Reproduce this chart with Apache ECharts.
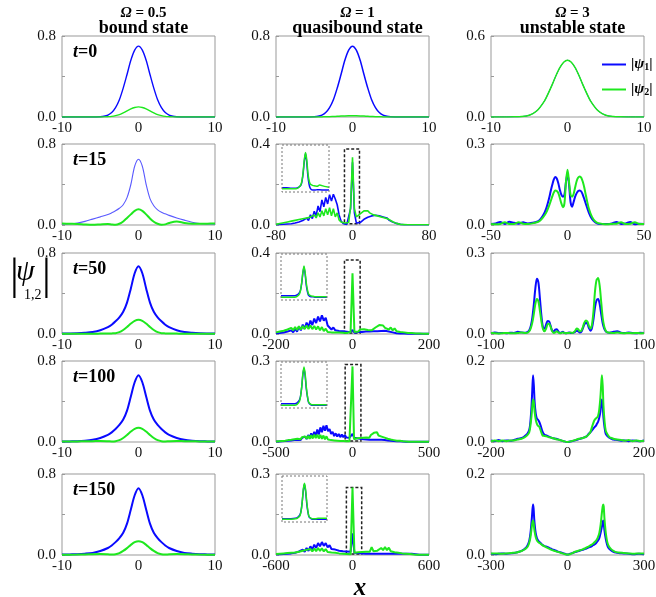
<!DOCTYPE html>
<html><head><meta charset="utf-8">
<script src="https://cdn.jsdelivr.net/npm/echarts@6/dist/echarts.min.js"></script>
<style>html,body{margin:0;padding:0;background:#fff}#c{width:656px;height:597px}</style>
</head><body><div id="c"></div>
<script>
// ---------------- DATA ----------------
const colTitles = ['0.5', '1', '3'];
const colStates = ['bound state', 'quasibound state', 'unstable state'];
const rowTimes = ['0', '15', '50', '100', '150'];
// x half-ranges and y maxima per panel [row][col]
const xRanges = [[10, 10, 10], [10, 80, 50], [10, 200, 100], [10, 500, 200], [10, 600, 300]];
const yMaxes = [[0.8, 0.8, 0.6], [0.8, 0.4, 0.3], [0.8, 0.4, 0.3], [0.8, 0.3, 0.2], [0.8, 0.3, 0.2]];

// column 1 (Omega = 0.5)
const c1xA = [-10,-6,-5,-4.5,-4,-3.5,-3,-2.5,-2,-1.5,-1,-0.5,0,0.5,1,1.5,2,2.5,3,3.5,4,4.5,5,6,10];
const r1c1_b = [0,0,0.0025,0.007,0.019,0.044,0.092,0.17,0.285,0.42,0.56,0.66,0.7,0.66,0.56,0.42,0.285,0.17,0.092,0.044,0.019,0.007,0.0025,0,0];
const r1c1_g = [0,0,0,0.001,0.003,0.006,0.013,0.024,0.041,0.06,0.08,0.094,0.1,0.094,0.08,0.06,0.041,0.024,0.013,0.006,0.003,0.001,0,0,0];
const c1xB = [-10,-9,-8,-7,-6,-5,-4,-3.5,-3,-2.5,-2,-1.5,-1,-0.5,0,0.5,1,1.5,2,2.5,3,3.5,4,5,6,7,8,9,10];
const r2c1_b = [0.008,0.012,0.02,0.036,0.058,0.08,0.103,0.12,0.14,0.165,0.2,0.27,0.4,0.58,0.65,0.58,0.4,0.26,0.19,0.15,0.125,0.11,0.095,0.07,0.048,0.028,0.015,0.01,0.008];
const r2c1_g = [0.014,0.012,0.01,0.005,0.002,0.006,0.01,0.005,0.002,0.012,0.035,0.07,0.105,0.14,0.155,0.14,0.105,0.065,0.032,0.012,0.002,0.006,0.02,0.034,0.02,0.013,0.012,0.013,0.015];
const r3c1_b = [0.004,0.005,0.007,0.012,0.02,0.037,0.068,0.092,0.125,0.165,0.22,0.31,0.45,0.6,0.67,0.6,0.45,0.31,0.22,0.165,0.125,0.092,0.068,0.037,0.02,0.012,0.007,0.005,0.004];
const r3c1_g = [0.003,0.003,0.003,0.003,0.003,0.004,0.005,0.006,0.008,0.018,0.04,0.07,0.103,0.13,0.14,0.13,0.103,0.07,0.04,0.018,0.008,0.006,0.005,0.004,0.003,0.003,0.003,0.003,0.003];
const r4c1_b = [0.004,0.006,0.008,0.013,0.022,0.04,0.07,0.095,0.128,0.168,0.222,0.31,0.45,0.59,0.66,0.59,0.45,0.31,0.222,0.168,0.128,0.095,0.07,0.04,0.022,0.013,0.008,0.006,0.004];
const r4c1_g = [0.004,0.005,0.006,0.007,0.008,0.01,0.008,0.006,0.008,0.018,0.04,0.07,0.103,0.13,0.14,0.13,0.103,0.07,0.04,0.018,0.008,0.006,0.008,0.01,0.008,0.007,0.006,0.005,0.004];
const r5c1_b = [0.004,0.006,0.008,0.013,0.021,0.039,0.069,0.094,0.127,0.167,0.22,0.31,0.45,0.59,0.66,0.59,0.45,0.31,0.22,0.167,0.127,0.094,0.069,0.039,0.021,0.013,0.008,0.006,0.004];
const r5c1_g = [0.003,0.003,0.004,0.006,0.008,0.009,0.007,0.005,0.007,0.018,0.04,0.068,0.1,0.127,0.137,0.127,0.1,0.068,0.04,0.018,0.007,0.005,0.007,0.009,0.008,0.006,0.004,0.003,0.003];

// column 2 (Omega = 1)
const r1c2_b = [0,0,0.0025,0.007,0.019,0.044,0.092,0.17,0.285,0.42,0.56,0.66,0.7,0.66,0.56,0.42,0.285,0.17,0.092,0.044,0.019,0.007,0.0025,0,0];
const r1c2_g = [0,0,0,0,0.001,0.002,0.003,0.005,0.007,0.009,0.011,0.012,0.012,0.012,0.011,0.009,0.007,0.005,0.003,0.002,0.001,0,0,0,0];
const r2c2_x = [-80,-78,-76,-74,-72,-70,-68,-66,-64,-62,-60,-58,-56,-54,-52,-50,-48,-46,-44,-42,-40,-38,-36,-34,-32,-30,-28,-26,-24,-22,-20,-18,-16,-14,-12,-10,-8,-6,-4,-2,0,2,4,6,8,10,12,14,16,18,20,22,24,26,28,30,32,34,36,38,40,42,44,46,48,50,52,54,56,58,60,62,64,66,68,70,72,74,76,78,80];
const r2c2_b = [0.002,0.002,0.003,0.003,0.004,0.004,0.005,0.006,0.006,0.008,
  0.01,0.012,0.015,0.012,0.022,0.016,0.034,0.022,0.05,0.032,
  0.068,0.046,0.094,0.066,0.124,0.09,0.136,0.104,0.15,0.118,
  0.152,0.128,0.1,0.05,0.02,0.008,0.004,0.003,0.005,0.08,
  0.31,
  0.06,0.01,0.008,0.012,0.02,0.028,0.022,0.038,0.03,0.045,
  0.04,0.048,0.042,0.045,0.038,0.04,0.032,0.035,0.025,0.022,
  0.015,0.012,0.008,0.005,0.003,0.002,0.001,0.001,0.001,0.001,
  0.001,0.001,0.001,0.001,0.001,0.001,0.001,0.001,0.001,0.001];
const r2c2_g = [0.003,0.005,0.007,0.009,0.011,0.013,0.015,0.017,0.019,0.021,
  0.023,0.025,0.027,0.029,0.031,0.033,0.035,0.037,0.039,0.041,
  0.05,0.035,0.06,0.04,0.07,0.045,0.08,0.05,0.085,0.045,
  0.08,0.04,0.06,0.025,0.015,0.012,0.01,0.01,0.012,0.09,
  0.335,
  0.08,0.04,0.045,0.055,0.06,0.07,0.075,0.07,0.06,0.055,
  0.05,0.052,0.045,0.048,0.04,0.042,0.035,0.035,0.028,0.022,
  0.016,0.012,0.008,0.005,0.003,0.002,0.002,0.001,0.001,0.001,
  0.001,0.001,0.001,0.001,0.001,0.001,0.001,0.001,0.001,0.001];
const r3c2_x = [-200,-195,-190,-185,-180,-175,-170,-165,-160,-155,-150,-145,-140,-135,-130,-125,-120,-115,-110,-105,-100,-95,-90,-85,-80,-75,-70,-65,-60,-55,-50,-45,-40,-35,-30,-25,-20,-15,-10,-5,0,5,10,15,20,25,30,35,40,45,50,55,60,65,70,75,80,85,90,95,100,105,110,115,120,125,130,135,140,145,150,155,160,165,170,175,180,185,190,195,200];
const r3c2_b = [0.004,0.005,0.005,0.006,0.007,0.008,0.012,0.006,0.018,0.008,
  0.026,0.012,0.036,0.018,0.046,0.026,0.056,0.034,0.066,0.044,
  0.076,0.054,0.086,0.062,0.092,0.066,0.08,0.042,0.04,0.022,
  0.032,0.018,0.027,0.015,0.022,0.013,0.019,0.011,0.015,0.009,
  0.02,
  0.006,0.008,0.01,0.012,0.01,0.013,0.012,0.014,0.012,0.015,
  0.013,0.016,0.014,0.018,0.015,0.02,0.016,0.018,0.012,0.012,
  0.008,0.006,0.004,0.003,0.002,0.002,0.002,0.002,0.001,0.001,
  0.001,0.001,0.001,0.001,0.001,0.001,0.001,0.001,0.001,0.001];
const r3c2_g = [0.008,0.01,0.012,0.014,0.016,0.018,0.022,0.016,0.03,0.018,
  0.034,0.02,0.038,0.022,0.04,0.024,0.042,0.024,0.042,0.024,
  0.04,0.022,0.038,0.018,0.034,0.014,0.026,0.01,0.018,0.008,
  0.01,0.008,0.008,0.007,0.006,0.006,0.005,0.005,0.005,0.01,
  0.3,
  0.01,0.015,0.012,0.022,0.014,0.024,0.016,0.02,0.028,0.018,
  0.025,0.032,0.038,0.044,0.046,0.042,0.03,0.038,0.022,0.032,
  0.018,0.028,0.014,0.022,0.01,0.017,0.008,0.012,0.005,0.008,
  0.005,0.004,0.003,0.002,0.002,0.001,0.001,0.001,0.001,0.001];
const r4c2_x = [-500,-490,-480,-470,-460,-450,-440,-430,-420,-410,-400,-390,-380,-370,-360,-350,-340,-330,-320,-310,-300,-290,-280,-270,-260,-250,-240,-230,-220,-210,-200,-190,-180,-170,-160,-150,-140,-130,-120,-110,-100,-90,-80,-70,-60,-50,-40,-30,-20,-10,0,10,20,30,40,50,60,70,80,90,100,110,120,130,140,150,160,170,180,190,200,210,220,230,240,250,260,270,280,290,300,310,320,330,340,350,360,370,380,390,400,410,420,430,440,450,460,470,480,490,500];
const r4c2_b = [0.002,0.002,0.002,0.003,0.003,0.003,0.004,0.004,0.005,0.005,
  0.006,0.006,0.007,0.008,0.008,0.011,0.007,0.015,0.009,0.02,
  0.011,0.026,0.014,0.032,0.018,0.038,0.022,0.046,0.028,0.054,
  0.036,0.06,0.042,0.062,0.04,0.048,0.03,0.038,0.022,0.032,
  0.02,0.03,0.018,0.028,0.018,0.026,0.017,0.024,0.016,0.022,
  0.03,
  0.016,0.018,0.014,0.016,0.012,0.014,0.01,0.012,0.009,0.011,
  0.008,0.01,0.008,0.01,0.008,0.01,0.008,0.01,0.008,0.009,
  0.007,0.008,0.006,0.007,0.005,0.006,0.004,0.005,0.003,0.004,
  0.003,0.003,0.002,0.002,0.001,0.001,0.001,0.001,0.001,0.001,
  0.001,0.001,0.001,0.001,0.001,0.001,0.001,0.001,0.001,0.001];
const r4c2_g = [0.002,0.003,0.003,0.004,0.004,0.005,0.005,0.006,0.007,0.007,
  0.008,0.009,0.01,0.011,0.012,0.014,0.01,0.018,0.011,0.02,
  0.012,0.023,0.012,0.025,0.013,0.027,0.014,0.027,0.013,0.026,
  0.012,0.024,0.01,0.021,0.009,0.016,0.007,0.012,0.006,0.008,
  0.005,0.005,0.004,0.004,0.004,0.003,0.003,0.003,0.003,0.004,
  0.28,
  0.01,0.016,0.014,0.018,0.015,0.019,0.016,0.02,0.017,0.022,
  0.016,0.026,0.024,0.034,0.03,0.036,0.024,0.03,0.02,0.026,
  0.016,0.02,0.012,0.016,0.009,0.012,0.007,0.008,0.005,0.006,
  0.005,0.004,0.003,0.003,0.002,0.001,0.001,0.001,0.001,0.001,
  0.001,0.001,0.001,0.001,0.001,0.001,0.001,0.001,0.001,0.001];
const r5c2_x = [-600,-585,-570,-555,-540,-525,-510,-495,-480,-465,-450,-435,-420,-405,-390,-375,-360,-345,-330,-315,-300,-285,-270,-255,-240,-225,-210,-195,-180,-165,-150,-135,-120,-105,-90,-75,-60,-45,-30,-15,0,15,30,45,60,75,90,105,120,135,150,165,180,195,210,225,240,255,270,285,300,315,330,345,360,375,390,405,420,435,450,465,480,495,510,525,540,555,570,585,600];
const r5c2_b = [0.003,0.003,0.003,0.004,0.004,0.004,0.005,0.005,0.006,0.007,
  0.008,0.01,0.013,0.011,0.02,0.012,0.026,0.015,0.032,0.02,
  0.038,0.026,0.044,0.032,0.048,0.034,0.044,0.028,0.036,0.022,
  0.028,0.02,0.026,0.016,0.022,0.014,0.02,0.013,0.018,0.012,
  0.08,
  0.008,0.007,0.007,0.006,0.006,0.006,0.005,0.005,0.005,0.005,
  0.005,0.006,0.005,0.006,0.005,0.006,0.005,0.006,0.005,0.006,
  0.005,0.006,0.005,0.006,0.005,0.006,0.005,0.006,0.005,0.006,
  0.005,0.004,0.003,0.002,0.001,0.001,0.001,0.001,0.001,0.001];
const r5c2_g = [0.004,0.004,0.005,0.005,0.006,0.006,0.007,0.007,0.008,0.008,
  0.009,0.01,0.012,0.01,0.016,0.011,0.019,0.012,0.022,0.013,
  0.024,0.014,0.026,0.015,0.025,0.013,0.022,0.011,0.018,0.009,
  0.012,0.008,0.008,0.006,0.006,0.005,0.005,0.004,0.004,0.003,
  0.25,
  0.008,0.009,0.01,0.01,0.011,0.01,0.012,0.011,0.012,0.029,
  0.014,0.012,0.016,0.02,0.026,0.018,0.03,0.018,0.027,0.014,
  0.02,0.01,0.014,0.008,0.011,0.006,0.009,0.005,0.006,0.004,
  0.003,0.002,0.002,0.001,0.001,0.001,0.001,0.001,0.001,0.001];
// dotted boxes around the central spike: [x0, y0, x1, y1]
const spikeBoxes = [null, [-8.4, 0.006, 7.3, 0.375], [-21, 0.005, 20, 0.365], [-48, 0.004, 55, 0.287], [-48, 0.004, 72, 0.25]];
// insets (normalised zoom of the central spike)
const insetX = [-1,-0.8,-0.6,-0.4,-0.3,-0.2,-0.15,-0.1,-0.05,0,0.05,0.1,0.15,0.2,0.3,0.4,0.5,0.6,0.8,1];
const in2_b = [0.09,0.09,0.08,0.08,0.1,0.14,0.22,0.4,0.66,0.82,0.64,0.35,0.17,0.08,0.04,0.04,0.05,0.05,0.04,0.04];
const in2_g = [0.07,0.07,0.07,0.07,0.09,0.15,0.24,0.43,0.69,0.84,0.7,0.42,0.25,0.17,0.14,0.13,0.12,0.15,0.12,0.1];
const in3_b = [0.09,0.09,0.09,0.09,0.11,0.16,0.22,0.36,0.58,0.72,0.56,0.32,0.18,0.1,0.07,0.07,0.06,0.06,0.06,0.06];
const in3_g = [0.06,0.06,0.06,0.06,0.08,0.13,0.21,0.38,0.6,0.74,0.6,0.37,0.22,0.13,0.09,0.08,0.07,0.07,0.07,0.07];
const in4_b = [0.09,0.09,0.09,0.09,0.11,0.17,0.26,0.45,0.72,0.86,0.7,0.42,0.24,0.12,0.07,0.06,0.06,0.06,0.06,0.06];
const in4_g = [0.06,0.06,0.06,0.06,0.08,0.14,0.25,0.46,0.74,0.89,0.74,0.46,0.26,0.13,0.08,0.07,0.07,0.07,0.07,0.07];
const in5_b = [0.07,0.07,0.07,0.08,0.1,0.16,0.25,0.44,0.7,0.82,0.66,0.4,0.22,0.11,0.07,0.06,0.06,0.06,0.06,0.06];
const in5_g = [0.06,0.06,0.06,0.07,0.09,0.14,0.24,0.45,0.72,0.84,0.7,0.44,0.24,0.12,0.08,0.07,0.07,0.08,0.08,0.08];

// column 3 (Omega = 3)
const r1c3_x = [-10,-8,-7,-6,-5,-4,-3,-2.5,-2,-1.5,-1,-0.5,0,0.5,1,1.5,2,2.5,3,4,5,6,7,8,10];
const r1c3_b = [0,0.0005,0.001,0.003,0.013,0.046,0.12,0.177,0.24,0.307,0.365,0.406,0.42,0.406,0.365,0.307,0.24,0.177,0.12,0.046,0.013,0.003,0.001,0.0005,0];
const r1c3_g = [0,0.0005,0.001,0.003,0.013,0.046,0.12,0.177,0.24,0.307,0.365,0.406,0.42,0.406,0.365,0.307,0.24,0.177,0.12,0.046,0.013,0.003,0.001,0.0005,0];
const r2c3_x = [-50,-47,-44,-41,-38,-35,-32,-29,-26,-23,-20,-18,-16,-14,-12,-11,-10,-9,-8,-7,-6,-5,-4,-3,-2,-1,0,1,2,3,4,5,6,7,8,9,10,11,12,14,16,18,20,23,26,29,32,35,38,41,44,47,50];
const r2c3_b = [0.004,0.006,0.011,0.004,0.012,0.008,0.005,0.01,0.006,0.008,
  0.012,0.02,0.035,0.06,0.1,
  0.125,0.148,0.168,0.178,0.172,0.155,0.13,0.112,0.105,0.112,0.16,0.19,0.15,0.085,0.068,0.085,0.105,0.118,0.126,0.128,0.124,0.112,0.096,0.078,
  0.045,0.022,0.01,0.005,
  0.004,0.004,0.006,0.011,0.004,0.006,0.011,0.003,0.005,0.004];
const r2c3_g = [0.004,0.003,0.004,0.01,0.004,0.004,0.01,0.005,0.004,0.006,
  0.01,0.016,0.028,0.045,0.072,
  0.088,0.105,0.12,0.128,0.126,0.118,0.1,0.08,0.066,0.08,0.16,0.205,0.16,0.112,0.105,0.115,0.14,0.163,0.176,0.18,0.175,0.16,0.138,0.11,
  0.06,0.03,0.014,0.007,
  0.004,0.003,0.004,0.005,0.01,0.004,0.005,0.01,0.004,0.004];
const r3c3_x = [-100,-95,-90,-85,-80,-75,-70,-65,-60,-55,-52,
  -50,-48,-46,-44,-42,-40,-38,-36,-34,-32,-30,-28,-26,-24,-22,-20,-18,-16,-14,-12,-10,-8,-6,-4,-2,0,2,4,6,8,10,12,14,16,18,20,22,24,26,28,30,32,34,36,38,40,42,44,46,48,50,
  52,55,60,65,70,75,80,85,90,95,100];
const r3c3_b = [0.003,0.006,0.003,0.004,0.003,0.005,0.004,0.008,0.006,0.005,0.008,
  0.014,0.03,0.06,0.11,0.17,0.205,0.19,0.13,0.065,0.025,
  0.02,0.035,0.048,0.046,0.03,0.012,0.01,0.016,0.018,0.01,
  0.004,0.006,0.008,0.004,0.003,0.004,0.006,0.004,0.004,0.005,
  0.008,0.012,0.01,0.006,0.008,0.02,0.035,0.042,0.038,0.022,
  0.012,0.022,0.055,0.1,0.125,0.13,0.112,0.075,0.04,0.02,
  0.01,
  0.006,0.005,0.008,0.01,0.005,0.004,0.006,0.004,0.003,0.005,0.004];
const r3c3_g = [0.004,0.003,0.002,0.003,0.004,0.003,0.003,0.004,0.006,0.004,0.005,
  0.01,0.022,0.042,0.075,0.112,0.13,0.12,0.085,0.045,0.018,
  0.01,0.02,0.036,0.038,0.026,0.01,0.004,0.006,0.01,0.006,
  0.003,0.004,0.006,0.004,0.003,0.004,0.004,0.006,0.004,0.006,
  0.012,0.02,0.018,0.01,0.012,0.025,0.042,0.05,0.046,0.03,
  0.02,0.035,0.085,0.16,0.2,0.207,0.18,0.12,0.06,0.028,
  0.012,
  0.006,0.005,0.004,0.006,0.004,0.003,0.004,0.003,0.004,0.003,0.004];
const r4c3_x = [-200,-190,-180,-170,-160,-150,-140,-130,-120,-115,-110,-105,-100,-97,-94,-92,-90,-88,-86,-83,-80,-77,-74,-70,-65,-60,-55,-50,-40,-30,-20,-10,0,
  10,20,30,40,50,55,60,65,70,74,77,80,83,86,88,90,92,94,97,100,105,110,115,120,130,140,150,160,170,180,190,200];
const r4c3_b = [0.004,0.002,0.005,0.002,0.004,0.003,0.005,0.008,0.01,0.012,0.016,0.02,0.03,0.05,0.09,0.13,0.165,0.14,0.1,0.07,0.058,0.055,0.05,0.04,0.025,0.018,0.016,0.014,0.01,0.008,0.005,0.002,0,
  0.002,0.004,0.007,0.01,0.014,0.02,0.024,0.03,0.036,0.04,0.045,0.05,0.06,0.075,0.095,0.105,0.09,0.06,0.035,0.02,0.014,0.01,0.008,0.006,0.005,0.003,0.004,0.002,0.004,0.003,0.002,0.004];
const r4c3_g = [0.002,0.004,0.002,0.004,0.002,0.004,0.004,0.006,0.008,0.01,0.013,0.017,0.024,0.04,0.065,0.09,0.105,0.098,0.075,0.055,0.045,0.04,0.038,0.028,0.016,0.015,0.014,0.012,0.01,0.007,0.005,0.002,0,
  0.002,0.005,0.008,0.01,0.014,0.018,0.025,0.04,0.053,0.058,0.06,0.065,0.08,0.11,0.14,0.165,0.14,0.09,0.05,0.028,0.018,0.012,0.01,0.008,0.006,0.005,0.003,0.005,0.002,0.004,0.002,0.003];
const r5c3_x = [-300,-280,-260,-240,-220,-200,-190,-180,-170,-160,-155,-150,-145,-140,-137,-135,-133,-130,-125,-120,-115,-110,-100,-90,-80,-70,-60,-50,-40,-30,-20,-10,0,
  10,20,30,40,50,60,70,80,90,100,110,115,120,125,130,135,138,140,142,145,150,155,160,170,180,190,200,220,240,260,280,300];
const r5c3_b = [0.003,0.002,0.004,0.003,0.004,0.006,0.008,0.01,0.014,0.02,0.026,0.035,0.055,0.09,0.115,0.125,0.115,0.085,0.055,0.042,0.036,0.032,0.026,0.022,0.02,0.017,0.014,0.012,0.009,0.007,0.005,0.003,0.001,
  0.003,0.005,0.007,0.009,0.011,0.013,0.015,0.018,0.02,0.024,0.028,0.032,0.036,0.042,0.055,0.07,0.08,0.085,0.08,0.06,0.04,0.026,0.018,0.012,0.008,0.006,0.005,0.004,0.003,0.002,0.003,0.002];
const r5c3_g = [0.004,0.004,0.003,0.004,0.005,0.006,0.008,0.01,0.013,0.018,0.022,0.03,0.045,0.07,0.082,0.085,0.08,0.062,0.045,0.036,0.032,0.03,0.025,0.021,0.018,0.015,0.012,0.01,0.008,0.006,0.004,0.002,0.001,
  0.002,0.005,0.008,0.01,0.012,0.014,0.017,0.02,0.024,0.028,0.034,0.038,0.045,0.055,0.075,0.105,0.12,0.125,0.12,0.09,0.055,0.035,0.024,0.015,0.01,0.007,0.006,0.005,0.004,0.003,0.004,0.004];

// ---------------- LAYOUT / STYLE ----------------
const FONT = '"Liberation Serif","Times New Roman",serif';
const BLUE = '#0a0aff', GREEN = '#1ee81e';
const colLeft = [62, 276, 491], rowTop = [36, 144, 253, 361, 474], PW = 153, PH = 81;
const insetBoxes = [null, [282, 145, 47, 47], [281, 254, 46, 46], [281, 362, 46, 46], [282, 476, 45, 46]];

const panelData = [
  [[c1xA, r1c1_b, r1c1_g], [c1xA, r1c2_b, r1c2_g], [r1c3_x, r1c3_b, r1c3_g]],
  [[c1xB, r2c1_b, r2c1_g], [r2c2_x, r2c2_b, r2c2_g], [r2c3_x, r2c3_b, r2c3_g]],
  [[c1xB, r3c1_b, r3c1_g], [r3c2_x, r3c2_b, r3c2_g], [r3c3_x, r3c3_b, r3c3_g]],
  [[c1xB, r4c1_b, r4c1_g], [r4c2_x, r4c2_b, r4c2_g], [r4c3_x, r4c3_b, r4c3_g]],
  [[c1xB, r5c1_b, r5c1_g], [r5c2_x, r5c2_b, r5c2_g], [r5c3_x, r5c3_b, r5c3_g]]
];
const insetData = [null, [in2_b, in2_g], [in3_b, in3_g], [in4_b, in4_g], [in5_b, in5_g]];

const zip = (xs, ys) => xs.map((x, i) => [x, ys[i]]);
const option = { animation: false, grid: [], xAxis: [], yAxis: [], series: [], title: [], graphic: [] };
const lbl = { color: '#111', fontFamily: FONT, fontSize: 15 };

let gi = 0;
for (let r = 0; r < 5; r++) {
  for (let c = 0; c < 3; c++) {
    const xr = xRanges[r][c], ym = yMaxes[r][c];
    const [xs, bs, gs] = panelData[r][c];
    option.grid.push({ left: colLeft[c], top: rowTop[r], width: PW, height: PH, show: true,
      borderColor: '#999', borderWidth: 1, backgroundColor: 'transparent', outerBoundsMode: 'none' });
    option.xAxis.push({ gridIndex: gi, type: 'value', min: -xr, max: xr, interval: xr,
      axisLine: { show: false, onZero: false }, axisTick: { show: false }, splitLine: { show: false },
      axisLabel: Object.assign({ margin: 4 }, lbl) });
    option.yAxis.push({ gridIndex: gi, type: 'value', min: 0, max: ym, interval: ym / 2,
      axisLine: { show: false, onZero: false }, splitLine: { show: false },
      axisTick: { show: true, inside: true, length: 3, lineStyle: { color: '#999' } },
      axisLabel: Object.assign({ margin: 6, formatter: v => (v === 0 || Math.abs(v - ym) < 1e-9) ? v.toFixed(1) : '' }, lbl) });
    const mid = c === 1 && r > 0;
    const smooth = mid ? false : 0.3;
    let gw = c === 0 ? (r === 0 ? 1.4 : 2) : (mid ? (r === 1 ? 1.6 : 2) : (r === 0 ? 1.5 : 2));
    let bw = (c === 0 && r === 1) ? 1.1 : ((c === 2 && r === 0) ? 1 : gw);
    const bcol = (c === 0 && r === 1) ? '#5a5aff' : BLUE;
    option.series.push({ type: 'line', name: 'psi1', xAxisIndex: gi, yAxisIndex: gi, data: zip(xs, bs),
      symbol: 'none', smooth, color: bcol, lineStyle: { color: bcol, width: bw }, silent: true, z: 2 });
    const gser = { type: 'line', name: 'psi2', xAxisIndex: gi, yAxisIndex: gi, data: zip(xs, gs),
      symbol: 'none', smooth, color: GREEN, lineStyle: { color: GREEN, width: gw }, silent: true, z: 3 };
    if (c === 1 && spikeBoxes[r]) {
      const b = spikeBoxes[r];
      gser.markArea = { silent: true, itemStyle: { color: 'rgba(0,0,0,0)', borderColor: '#222', borderWidth: 1.5, borderType: [3, 2] },
        data: [[{ coord: [b[0], b[1]] }, { coord: [b[2], b[3]] }]] };
    }
    option.series.push(gser);
    gi++;
  }
}
// insets
for (let r = 1; r < 5; r++) {
  const bx = insetBoxes[r];
  option.grid.push({ left: bx[0], top: bx[1], width: bx[2], height: bx[3], show: false, outerBoundsMode: 'none' });
  option.xAxis.push({ gridIndex: gi, type: 'value', min: -1, max: 1, show: false });
  option.yAxis.push({ gridIndex: gi, type: 'value', min: 0, max: 1, show: false });
  option.series.push({ type: 'line', name: 'psi1', xAxisIndex: gi, yAxisIndex: gi, data: zip(insetX, insetData[r][0]),
    symbol: 'none', smooth: 0.2, color: BLUE, lineStyle: { color: BLUE, width: 1.5 }, silent: true, z: 4 });
  option.series.push({ type: 'line', name: 'psi2', xAxisIndex: gi, yAxisIndex: gi, data: zip(insetX, insetData[r][1]),
    symbol: 'none', smooth: 0.2, color: GREEN, lineStyle: { color: GREEN, width: 1.5 }, silent: true, z: 5 });
  option.graphic.push({ type: 'rect', shape: { x: bx[0], y: bx[1], width: bx[2], height: bx[3] },
    style: { fill: 'none', stroke: '#777', lineWidth: 1, lineDash: [2, 2] }, silent: true, z: 10 });
  gi++;
}

// column titles
for (let c = 0; c < 3; c++) {
  const cx = colLeft[c] + PW / 2;
  option.title.push({ text: '{o|Ω} = ' + colTitles[c], left: cx, top: 1, textAlign: 'center',
    textStyle: { fontFamily: FONT, fontSize: 15, fontWeight: 'bold', color: '#000',
      rich: { o: { fontFamily: FONT, fontSize: 15, fontStyle: 'italic', fontWeight: 'bold', color: '#000' } } } });
  option.title.push({ text: colStates[c], left: cx, top: 14, textAlign: 'center',
    textStyle: { fontFamily: FONT, fontSize: 18, fontWeight: 'bold', color: '#000' } });
}
// row labels
for (let r = 0; r < 5; r++) {
  option.title.push({ text: '{t|t}{n|=' + rowTimes[r] + '}', left: 68, top: rowTop[r] + 2,
    textStyle: { rich: { t: { fontFamily: FONT, fontSize: 18, fontStyle: 'italic', fontWeight: 'bold', color: '#000' },
      n: { fontFamily: FONT, fontSize: 18, fontWeight: 'bold', color: '#000' } } } });
}
// y axis label |psi_{1,2}|
const yLab = { fontFamily: FONT, color: '#000', fontWeight: 'normal' };
option.title.push({ text: '|', left: 5, top: 250, textStyle: Object.assign({ fontSize: 44 }, yLab) });
option.title.push({ text: 'ψ', left: 11, top: 252, textStyle: Object.assign({ fontSize: 30, fontStyle: 'italic' }, yLab) });
option.title.push({ text: '1,2', left: 19, top: 283, textStyle: Object.assign({ fontSize: 14 }, yLab) });
option.title.push({ text: '|', left: 37, top: 250, textStyle: Object.assign({ fontSize: 44 }, yLab) });
// x axis label
option.title.push({ text: 'x', left: 355, top: 571, textAlign: 'center',
  textStyle: { fontFamily: FONT, fontSize: 25, fontStyle: 'italic', fontWeight: 'bold', color: '#000' } });

option.legend = { left: 597, top: 52, orient: 'vertical', itemWidth: 24, itemHeight: 2, itemGap: 10, icon: 'rect',
  selectedMode: false, data: ['psi1', 'psi2'],
  formatter: n => n === 'psi1' ? '|{p|ψ}{s|1}|' : '|{p|ψ}{s|2}|',
  textStyle: { fontFamily: FONT, fontSize: 15, color: '#000', fontWeight: 'bold',
    rich: { p: { fontFamily: FONT, fontSize: 15, fontStyle: 'italic', fontWeight: 'bold', color: '#000' },
      s: { fontFamily: FONT, fontSize: 10, fontWeight: 'bold', color: '#000', verticalAlign: 'bottom' } } } };

const chart = echarts.init(document.getElementById('c'), null, { renderer: 'canvas' });
chart.setOption(option);
</script></body></html>
